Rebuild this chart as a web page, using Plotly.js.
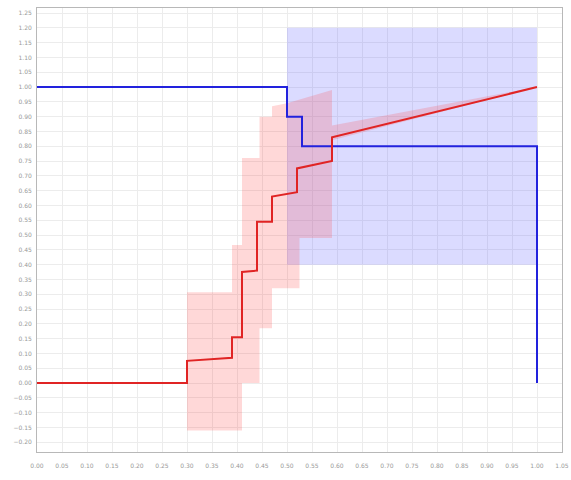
<!DOCTYPE html>
<html>
<head>
<meta charset="utf-8">
<script src="https://cdn.plot.ly/plotly-3.0.1.min.js"></script>
<style>html,body{margin:0;padding:0;background:#fff;}#chart{width:571px;height:480px;}</style>
</head>
<body>
<div id="chart"></div>
<script>
// Blue step line
var blueX = [0, 0.50, 0.53, 1.00, 1.00];
var blueY = [1.00, 0.90, 0.80, 0.80, 0.00];
// Blue band
var blueBandX = [0.50, 1.00];
var blueBandLow = [0.40, 0.40];
var blueBandHigh = [1.20, 1.20];
// Red line
var redX = [0, 0.30, 0.30, 0.39, 0.39, 0.41, 0.41, 0.44, 0.44, 0.47, 0.47, 0.52, 0.52, 0.59, 0.59, 1.00];
var redY = [0, 0, 0.075, 0.085, 0.155, 0.155, 0.375, 0.38, 0.545, 0.545, 0.63, 0.645, 0.725, 0.75, 0.83, 1.00];
// Red band upper edge
var redUpX = [0.30, 0.39, 0.39, 0.41, 0.41, 0.445, 0.445, 0.47, 0.47, 0.50, 0.59, 0.59, 1.00];
var redUpY = [0.307, 0.307, 0.466, 0.466, 0.76, 0.76, 0.90, 0.90, 0.935, 0.945, 0.99, 0.87, 1.00];
// Red band lower edge
var redLoX = [0.30, 0.41, 0.41, 0.445, 0.445, 0.47, 0.47, 0.525, 0.525, 0.59, 0.59, 1.00];
var redLoY = [-0.16, -0.16, 0.0, 0.0, 0.185, 0.185, 0.32, 0.32, 0.49, 0.49, 0.82, 1.00];

var blueBandPolyX = blueBandX.concat(blueBandX.slice().reverse());
var blueBandPolyY = blueBandHigh.concat(blueBandLow.slice().reverse());
var redBandPolyX = redUpX.concat(redLoX.slice().reverse());
var redBandPolyY = redUpY.concat(redLoY.slice().reverse());

var traces = [
  {x: blueBandPolyX, y: blueBandPolyY, mode: 'lines', fill: 'toself',
   fillcolor: 'rgba(90,90,255,0.22)', line: {width: 0}, hoverinfo: 'skip'},
  {x: redBandPolyX, y: redBandPolyY, mode: 'lines', fill: 'toself',
   fillcolor: 'rgba(255,60,60,0.2)', line: {width: 0}, hoverinfo: 'skip'},
  {x: blueX, y: blueY, mode: 'lines', line: {shape: 'hv', color: '#2222dd', width: 2}},
  {x: redX, y: redY, mode: 'lines', line: {color: '#e02424', width: 2}}
];

var axisCommon = {
  dtick: 0.05, tick0: 0, tickformat: '.2f',
  showgrid: true, gridcolor: '#ececec', gridwidth: 1,
  zeroline: false, showline: true, linecolor: '#b8b8b8', linewidth: 1, mirror: true,
  ticks: 'outside', ticklen: 5, tickcolor: 'rgba(0,0,0,0)',
  tickfont: {family: 'DejaVu Sans', size: 6, color: '#999999'}
};

var layout = {
  width: 571, height: 480,
  margin: {l: 37, r: 9, t: 8, b: 28},
  paper_bgcolor: '#ffffff', plot_bgcolor: '#ffffff',
  showlegend: false,
  xaxis: Object.assign({}, axisCommon, {range: [0, 1.05], ticklen: 8}),
  yaxis: Object.assign({}, axisCommon, {range: [-0.233, 1.267], ticklen: 3})
};

Plotly.newPlot('chart', traces, layout, {displayModeBar: false, staticPlot: true});
</script>
</body>
</html>
